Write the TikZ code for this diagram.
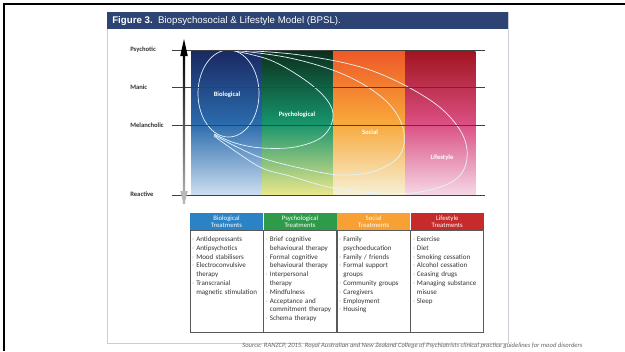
\documentclass[tikz,border=0pt]{standalone}
\usepackage{fontspec}
\setmainfont{Carlito}
\newfontfamily\titlefont{Liberation Sans}
\usetikzlibrary{positioning}

\definecolor{titlebar}{HTML}{2D4373}
\definecolor{panelline}{HTML}{C8CDD8}
\definecolor{biohead}{HTML}{2B83C6}
\definecolor{psyhead}{HTML}{2E9B4A}
\definecolor{sochead}{HTML}{F7A033}
\definecolor{lifhead}{HTML}{C62A2A}
\definecolor{dashcol}{HTML}{E39B5C}
\definecolor{loopcol}{HTML}{E2F5FF}

% list entry with a hanging dash
\newcommand{\litem}[1]{\par\hangindent=0.6em\hangafter=1\noindent\makebox[0.6em][l]{\textcolor{dashcol}{-}}#1\par}
% line break that keeps the hanging indent
\newcommand{\nl}{\hfil\break}

\tikzset{
  axlabel/.style={anchor=west, inner sep=0, text=black!80, font=\fontsize{4.7}{5}\selectfont\bfseries},
  level/.style={draw=black!75, line width=0.55pt},
  loopline/.style={draw=loopcol, line width=0.5pt},
  looplabel/.style={inner sep=0, text=white, font=\fontsize{4.7}{5}\selectfont\bfseries},
  hdr/.style={minimum width=1.825cm, minimum height=0.425cm, inner sep=0, align=center,
    text=white, font=\fontsize{4.8}{5.4}\selectfont},
  tbody/.style={draw=black!65, line width=0.5pt, minimum width=1.825cm, minimum height=2.55cm, inner sep=0},
  tlist/.style={anchor=north west, inner sep=0, text width=1.77cm, text=black!80,
    font=\fontsize{5}{6.25}\selectfont\raggedright}
}

\begin{document}
\begin{tikzpicture}[x=0.025cm, y=-0.025cm]
  \useasboundingbox (0,0) rectangle (625,351);
  \fill[white] (0,0) rectangle (625,351);

  % Frame and panel
  \draw[line width=1.4pt] (4,351) -- (4,4) -- (625,4);
  \draw[panelline, line width=0.7pt] (107,12) rectangle (508,343);
  \fill[titlebar] (107,12) rectangle (508,29);
  \node[anchor=west, inner sep=0, text=white, font=\titlefont\fontsize{6.9}{7.5}\selectfont] (title) at (112,21)
    {\textbf{Figure 3.}\ \ Biopsychosocial \& Lifestyle Model (BPSL).};

  % Columns
  \shade[top color={rgb,255:red,26;green,40;blue,98}, bottom color={rgb,255:red,205;green,223;blue,240}, middle color={rgb,255:red,42;green,106;blue,172}]
    (191,50) rectangle (262,195);
  \shade[top color={rgb,255:red,12;green,46;blue,28}, bottom color={rgb,255:red,236;green,232;blue,140}, middle color={rgb,255:red,22;green,148;blue,108}]
    (262,50) rectangle (333,195);
  \shade[top color={rgb,255:red,238;green,88;blue,40}, bottom color={rgb,255:red,246;green,241;blue,214}, middle color={rgb,255:red,248;green,168;blue,58}]
    (333,50) rectangle (405,195);
  \shade[top color={rgb,255:red,160;green,20;blue,30}, bottom color={rgb,255:red,246;green,216;blue,230}, middle color={rgb,255:red,218;green,78;blue,130}]
    (405,195) -- (405,50) [rounded corners=2pt] -- (476,50) [sharp corners] -- (476,195) -- cycle;

  % Loops
  \draw[loopline] (228.5,93.5) ellipse [x radius=0.7625cm, y radius=1.0875cm];
  \draw[loopline] plot[smooth, tension=0.6] coordinates {(230,50) (270,60) (305,80) (327,100) (333,118) (322,137) (295,147) (262,148) (235,143) (214,134)};
  \draw[loopline] plot[smooth, tension=0.6] coordinates {(232,50) (290,58) (345,75) (385,100) (403,128) (400,155) (375,171) (340,175) (300,168) (262,158) (235,146) (214,135)};
  \draw[loopline] plot[smooth, tension=0.6] coordinates {(234,50) (300,55) (370,70) (430,100) (460,130) (467,158) (455,180) (420,192) (380,193) (333,188) (290,176) (262,168) (235,151) (214,136)};

  \node[looplabel] (bio) at (227,95) {Biological};
  \node[looplabel] (psy) at (297,115) {Psychological};
  \node[looplabel] (soc) at (370,132) {Social};
  \node[looplabel] (lif) at (442,158) {Lifestyle};

  % Levels
  \node[axlabel] (psychotic) at (130,50) {Psychotic};
  \node[axlabel] (manic) at (130,87) {Manic};
  \node[axlabel] (melancholic) at (130,125) {Melancholic};
  \node[axlabel] (reactive) at (130,194) {Reactive};
  \foreach \y/\n in {50/psy, 87/man, 125/mel, 195/rea} {
    \coordinate (\n l) at (172,\y);
    \coordinate (\n r) at (485,\y);
    \draw[level] (\n l) -- (\n r);
  }

  % Severity axis
  \coordinate (axtop) at (184,39);
  \coordinate (axbot) at (184,205);
  \shade[top color=black, bottom color=black!28] (182.8,52) rectangle (185.2,203);
  \fill[black] (axtop) -- (180.2,56) -- (187.8,56) -- cycle;
  \fill[black!28] (axbot) -- (180.2,191) -- (187.8,191) -- cycle;

  % Treatments table
  \node[hdr, fill=biohead] (biohd) at (226.5,221.5) {Biological\\Treatments};
  \node[hdr, fill=psyhead, right=0pt of biohd] (psyhd) {Psychological\\Treatments};
  \node[hdr, fill=sochead, right=0pt of psyhd] (sochd) {Social\\Treatments};
  \node[hdr, fill=lifhead, right=0pt of sochd] (lifhd) {Lifestyle\\Treatments};

  \node[tbody, below=0pt of biohd] (biobd) {};
  \node[tbody, below=0pt of psyhd] (psybd) {};
  \node[tbody, below=0pt of sochd] (socbd) {};
  \node[tbody, below=0pt of lifhd] (lifbd) {};

  \node[tlist] (biolist) at ([xshift=1.5pt,yshift=-1.6pt]biobd.north west) {%
    \litem{Antidepressants}\litem{Antipsychotics}\litem{Mood stabilisers}%
    \litem{Electroconvulsive\nl therapy}\litem{Transcranial\nl magnetic stimulation}};
  \node[tlist] (psylist) at ([xshift=1.5pt,yshift=-1.6pt]psybd.north west) {%
    \litem{Brief cognitive\nl behavioural therapy}\litem{Formal cognitive\nl behavioural therapy}%
    \litem{Interpersonal\nl therapy}\litem{Mindfulness}\litem{Acceptance and\nl commitment therapy}%
    \litem{Schema therapy}};
  \node[tlist] (soclist) at ([xshift=1.5pt,yshift=-1.6pt]socbd.north west) {%
    \litem{Family\nl psychoeducation}\litem{Family / friends}\litem{Formal support\nl groups}%
    \litem{Community groups}\litem{Caregivers}\litem{Employment}\litem{Housing}};
  \node[tlist] (liflist) at ([xshift=1.5pt,yshift=-1.6pt]lifbd.north west) {%
    \litem{Exercise}\litem{Diet}\litem{Smoking cessation}\litem{Alcohol cessation}%
    \litem{Ceasing drugs}\litem{Managing substance\nl misuse}\litem{Sleep}};

  % Source line
  \node[anchor=west, inner sep=0, text=black!60, font=\fontsize{4.7}{5}\selectfont\itshape] (source) at (242,346)
    {Source: RANZCP, 2015. Royal Australian and New Zealand College of Psychiatrists clinical practice guidelines for mood disorders};
\end{tikzpicture}
\end{document}
